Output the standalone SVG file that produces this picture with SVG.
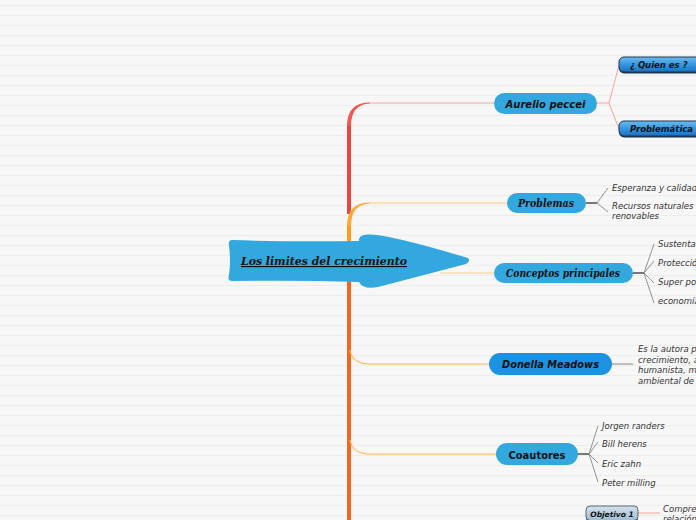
<svg xmlns="http://www.w3.org/2000/svg" width="696" height="520" viewBox="0 0 696 520">
<defs>
<pattern id="bgl" width="696" height="10" patternUnits="userSpaceOnUse">
<rect width="696" height="10" fill="#f7f7f7"/>
<rect y="5" width="696" height="1" fill="#ececec"/>
</pattern>
<linearGradient id="gb" x1="0" y1="0" x2="0" y2="1">
<stop offset="0" stop-color="#6bbcf0"/>
<stop offset="0.5" stop-color="#3597e0"/>
<stop offset="1" stop-color="#1c6fc0"/>
</linearGradient>
<linearGradient id="gg" x1="0" y1="0" x2="0" y2="1">
<stop offset="0" stop-color="#d3e2ee"/>
<stop offset="1" stop-color="#9fbcd2"/>
</linearGradient>
</defs>
<style>
.pill{fill:#33a8df}
.sub{stroke:#24364a;stroke-width:1}
.sans{font-family:"DejaVu Sans",Verdana,sans-serif}
.serif{font-family:"DejaVu Serif",Georgia,serif}
.lbl{font-weight:bold;font-style:italic;fill:#111}
.leaf{font-family:"DejaVu Sans",Verdana,sans-serif;font-style:italic;font-size:8.5px;fill:#333}
.fork{stroke:#888;stroke-width:0.9;fill:none}
.stem{stroke:#222;stroke-width:1.2;fill:none}
</style>
<rect width="696" height="520" fill="url(#bgl)"/>

<g id="connectors" fill="none">
<path d="M349,214 L349,124" stroke="#e8453c" stroke-width="4"/>
<path d="M347,126 Q347,102.3 370,102.4 L370,103.6 Q351,104.5 351,126 Z" fill="#ec5a50"/>
<path d="M370,103 L494,103" stroke="#f6a39d" stroke-width="1.2"/>
<path d="M349,262 L349,224" stroke="#ff9a1a" stroke-width="4"/>
<path d="M347,226 Q347,202.3 370,202.4 L370,203.6 Q351,204.5 351,226 Z" fill="#ffa838"/>
<path d="M370,203 L507,203" stroke="#ffc878" stroke-width="1.2"/>
<path d="M349,262 L349,520" stroke="#f26522" stroke-width="4"/>
<path d="M440,273 L494,273" stroke="#ffd08a" stroke-width="1.2"/>
<path d="M350,350 Q352,363 368,364 L489,364" stroke="#ffb84d" stroke-width="1.2"/>
<path d="M350,440 Q352,453 368,454 L496,454" stroke="#ffb84d" stroke-width="1.2"/>
<path d="M597,103 L609,103 L619,65 M609,103 L619,129" stroke="#f6a39d" stroke-width="1"/>
<path class="stem" d="M586,203 L597,203"/>
<path class="fork" d="M597,203 L608,188 M597,203 L608,212"/>
<path class="stem" d="M633,273 L644,273"/>
<path class="fork" d="M644,273 L654,244 M644,273 L654,261 M644,273 L654,283 M644,273 L654,303"/>
<path d="M612,364 L633,364" stroke="#888" stroke-width="1"/>
<path class="stem" d="M578,454 L589,454"/>
<path class="fork" d="M589,454 L598,426 M589,454 L598,442 M589,454 L598,463 M589,454 L598,482"/>
<path d="M638,513 L660,513" stroke="#f4a090" stroke-width="1"/>
</g>

<g id="central">
<path d="M232,240 Q290,242 359,241 Q358,235 368,234.5 Q388,234 468,258 Q471,261 466,264 L378,287 Q363,290 359,282 Q300,280 232,281 Q227,281 229,275 Q231,262 229,246 Q228,240 232,240 Z" fill="#33a8df"/>
<text x="241" y="265" class="serif lbl" font-size="11.5" text-decoration="underline" textLength="166" lengthAdjust="spacingAndGlyphs" fill="#222">Los limites del crecimiento</text>
</g>

<g id="aurelio">
<rect x="494" y="93" width="103" height="21" rx="10.5" class="pill"/>
<text x="545.5" y="108" text-anchor="middle" class="sans lbl" font-size="11" textLength="80" lengthAdjust="spacingAndGlyphs">Aurelio peccei</text>
</g>
<g id="quien">
<rect x="619" y="58" width="90" height="15.5" rx="5" fill="#1a3550"/>
<rect x="619" y="57" width="90" height="15" rx="5" fill="url(#gb)" class="sub"/>
<text x="630" y="68" class="sans lbl" font-size="8.5">¿ Quien es ?</text>
</g>
<g id="problematica">
<rect x="619" y="122" width="90" height="15.5" rx="5" fill="#1a3550"/>
<rect x="619" y="121" width="90" height="15" rx="5" fill="url(#gb)" class="sub"/>
<text x="630" y="132" class="sans lbl" font-size="8.5">Problemática ...</text>
</g>

<g id="problemas">
<rect x="507" y="193" width="79" height="20" rx="10" class="pill"/>
<text x="546" y="207" text-anchor="middle" class="serif lbl" font-size="11" textLength="56" lengthAdjust="spacingAndGlyphs">Problemas</text>
</g>
<g id="problemas-leaves">
<text x="612" y="191" class="leaf">Esperanza y calidad de vida</text>
<text x="612" y="209" class="leaf">Recursos naturales renovables</text>
<text x="612" y="219" class="leaf">renovables</text>
</g>

<g id="conceptos">
<rect x="494" y="263" width="139" height="20" rx="10" class="pill"/>
<text x="563" y="277" text-anchor="middle" class="serif lbl" font-size="11" textLength="114" lengthAdjust="spacingAndGlyphs">Conceptos principales</text>
</g>
<g id="conceptos-leaves">
<text x="658" y="247" class="leaf">Sustentabilidad</text>
<text x="658" y="266" class="leaf">Protección</text>
<text x="658" y="285" class="leaf">Super población</text>
<text x="658" y="304" class="leaf">economía</text>
</g>

<g id="donella">
<rect x="489" y="353" width="123" height="22" rx="11" fill="#1b93e2"/>
<text x="550.5" y="368" text-anchor="middle" class="sans lbl" font-size="11" textLength="97" lengthAdjust="spacingAndGlyphs">Donella Meadows</text>
</g>
<g id="donella-text">
<text x="638" y="352" class="leaf">Es la autora principal</text>
<text x="638" y="362.5" class="leaf">crecimiento, a</text>
<text x="638" y="373" class="leaf">humanista, m</text>
<text x="638" y="383.5" class="leaf">ambiental de</text>
</g>

<g id="coautores">
<rect x="496" y="443" width="82" height="22" rx="11" class="pill"/>
<text x="537" y="458.5" text-anchor="middle" class="sans" font-weight="bold" font-size="11" fill="#111" textLength="57" lengthAdjust="spacingAndGlyphs">Coautores</text>
</g>
<g id="coautores-leaves">
<text x="602" y="429" class="leaf">Jorgen randers</text>
<text x="602" y="447" class="leaf">Bill herens</text>
<text x="602" y="467" class="leaf">Eric zahn</text>
<text x="602" y="486" class="leaf">Peter milling</text>
</g>

<g id="objetivo1">
<rect x="586" y="507" width="52" height="15" rx="4" fill="#5a6a78"/>
<rect x="586" y="506" width="52" height="14.5" rx="4" fill="url(#gg)" stroke="#3a4a58" stroke-width="0.8"/>
<text x="612" y="516.5" text-anchor="middle" class="sans lbl" font-size="7.5">Objetivo 1</text>
</g>
<g id="objetivo1-text">
<text x="663" y="512" class="leaf">Comprender</text>
<text x="663" y="522" class="leaf">relación</text>
</g>
</svg>
